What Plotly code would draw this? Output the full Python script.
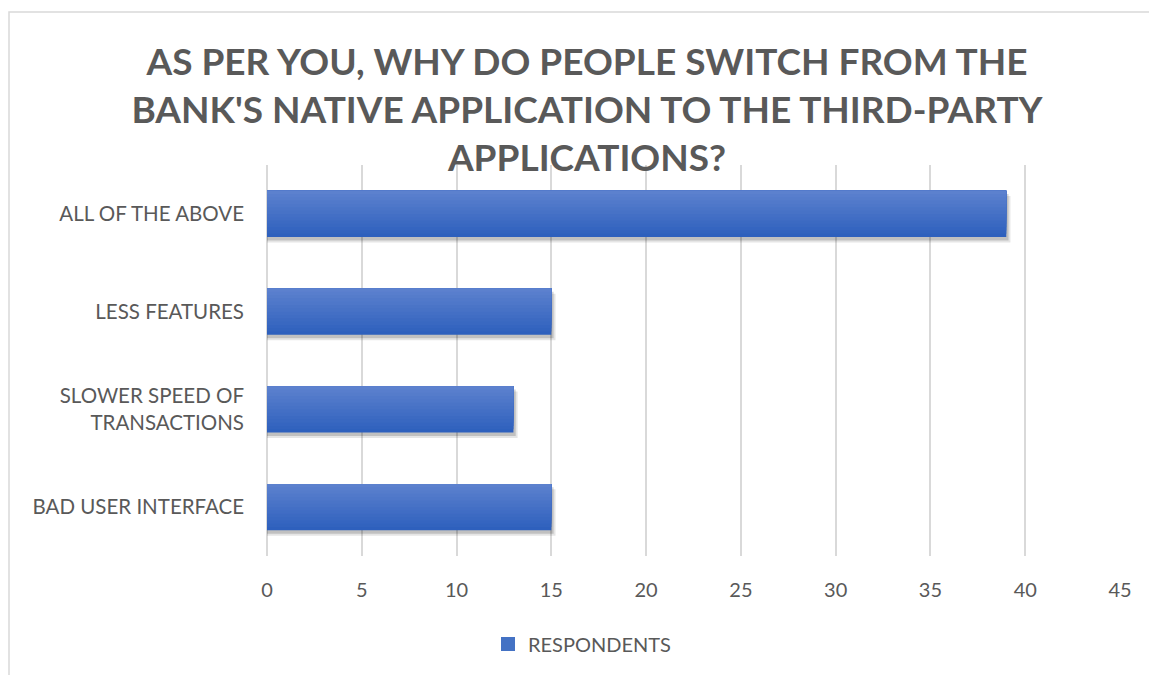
import plotly.graph_objects as go

# Survey responses (bottom-to-top order of the category axis)
categories = [
    "BAD USER INTERFACE",
    "SLOWER SPEED OF<br>TRANSACTIONS",
    "LESS FEATURES",
    "ALL OF THE ABOVE",
]
respondents = [15, 13, 15, 39]

x_ticks = [0, 5, 10, 15, 20, 25, 30, 35, 40, 45]

title_text = ("AS PER YOU, WHY DO PEOPLE SWITCH FROM THE<br>"
              "BANK'S NATIVE APPLICATION TO THE THIRD-PARTY<br>"
              "APPLICATIONS?")

TEXT = "#595959"
FONT = "Lato, 'Open Sans', sans-serif"
BAR_W = 0.475

fig = go.Figure()

# soft drop shadow under each bar
for dy, dx, alpha in [(0.055, 0.22, 0.10), (0.035, 0.12, 0.16)]:
    fig.add_trace(go.Bar(
        y=categories, x=[v + dx for v in respondents], orientation="h",
        width=BAR_W, offset=-BAR_W / 2 - dy,
        marker=dict(color=f"rgba(0,0,0,{alpha})", line=dict(width=0)),
        showlegend=False, hoverinfo="skip",
    ))

# vertical gradient across the bar thickness: light on top, darker below.
# Each layer reaches the top edge so that later (lighter) layers cover the
# earlier ones without seams.
top = (92, 129, 206)
bottom = (46, 96, 189)
n = 14
step = BAR_W / n
for i in range(n):
    t = i / (n - 1)
    c = tuple(round(bottom[j] + (top[j] - bottom[j]) * t) for j in range(3))
    fig.add_trace(go.Bar(
        y=categories, x=respondents, orientation="h",
        width=BAR_W - i * step, offset=-BAR_W / 2 + i * step,
        marker=dict(color=f"rgb{c}", line=dict(width=0)),
        name="RESPONDENTS", showlegend=False,
    ))

# legend swatch for the series
fig.add_trace(go.Scatter(
    x=[None], y=[None], mode="markers", name="RESPONDENTS",
    marker=dict(color="rgb(68,114,196)", symbol="square", size=14),
    showlegend=True,
))

fig.update_layout(
    width=1149, height=675,
    barmode="overlay",
    paper_bgcolor="white", plot_bgcolor="white",
    margin=dict(l=267, r=29, t=165, b=114),
    font=dict(family=FONT, color=TEXT, size=20),
    title=dict(
        text=title_text, x=587 / 1149, xanchor="center",
        y=1 - 75 / 675, yanchor="top", yref="container",
        font=dict(family=FONT, size=37, color=TEXT, weight="bold"),
    ),
    showlegend=True,
    legend=dict(
        orientation="h", x=(582 - 267) / 853, xanchor="center",
        y=-0.175, yanchor="top", font=dict(size=20, color=TEXT),
        itemwidth=30,
    ),
    xaxis=dict(
        range=[0, 45], tickvals=x_ticks, showgrid=True,
        gridcolor="#d9d9d9", gridwidth=2, zeroline=True,
        zerolinecolor="#d9d9d9", zerolinewidth=2, showline=False,
        ticks="", ticklabelstandoff=20, tickfont=dict(size=20, color=TEXT),
        fixedrange=True,
    ),
    yaxis=dict(
        type="category", categoryorder="array", categoryarray=categories,
        range=[-0.5, 3.5], showgrid=False, zeroline=False, showline=False,
        ticks="", ticklabelstandoff=22, tickfont=dict(size=20.5, color=TEXT),
    ),
    shapes=[dict(
        type="rect", xref="paper", yref="paper",
        x0=(9 - 267) / 853, x1=1.2, y0=-0.4, y1=(561 - 10) / 396,
        line=dict(color="#d9d9d9", width=1.5), fillcolor="rgba(0,0,0,0)",
        layer="below",
    )],
)

fig.write_html("out.html")
